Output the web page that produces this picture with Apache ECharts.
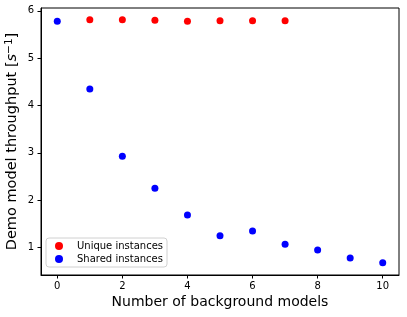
<!DOCTYPE html>
<html>
<head>
<meta charset="utf-8">
<script src="https://cdn.jsdelivr.net/npm/echarts@6/dist/echarts.min.js"></script>
<style>html,body{margin:0;padding:0;background:#fff}#c{width:407px;height:317px}</style>
</head>
<body>
<div id="c"></div>
<script>
const uniqueX = [1, 2, 3, 4, 5, 6, 7];
const uniqueY = [5.81, 5.81, 5.80, 5.78, 5.79, 5.79, 5.79];
const sharedX = [0, 1, 2, 3, 4, 5, 6, 7, 8, 9, 10];
const sharedY = [5.78, 4.35, 2.93, 2.25, 1.69, 1.25, 1.35, 1.07, 0.95, 0.78, 0.68];
const xTicks = [0, 2, 4, 6, 8, 10];
const yTicks = [1, 2, 3, 4, 5, 6];
const seriesNames = ['Unique instances', 'Shared instances'];

const font = 'DejaVu Sans';
const chart = echarts.init(document.getElementById('c'));
const axisCommon = {
  axisLine: { show: true, onZero: false, lineStyle: { color: '#000', width: 1 } },
  axisTick: { show: true, length: 3.5, lineStyle: { color: '#000' } },
  axisLabel: { color: '#000', fontFamily: font, fontSize: 10, margin: 6 },
  splitLine: { show: false }
};
chart.setOption({
  animation: false,
  grid: { left: 41, right: 8, top: 8, bottom: 42, show: true, borderColor: '#000', borderWidth: 1,
          containLabel: false, outerBoundsMode: 'none' },
  xAxis: Object.assign({}, axisCommon, {
    type: 'value', min: -0.5, max: 10.5,
    axisTick: Object.assign({}, axisCommon.axisTick, { customValues: xTicks }),
    axisLabel: Object.assign({}, axisCommon.axisLabel, { customValues: xTicks }),
    name: 'Number of background models', nameLocation: 'middle', nameGap: 20, nameMoveOverlap: false,
    nameTextStyle: { fontFamily: font, fontSize: 14, color: '#000' }
  }),
  yAxis: Object.assign({}, axisCommon, {
    type: 'value', min: 0.42, max: 6.06,
    axisTick: Object.assign({}, axisCommon.axisTick, { customValues: yTicks }),
    axisLabel: Object.assign({}, axisCommon.axisLabel, { customValues: yTicks, margin: 7 }),
    name: 'Demo model throughput [{i|s}{sup|−1}]', nameLocation: 'middle', nameGap: 20, nameMoveOverlap: false,
    nameTextStyle: {
      fontFamily: font, fontSize: 14.5, color: '#000',
      rich: {
        i: { fontFamily: font, fontSize: 14.5, fontStyle: 'italic', color: '#000' },
        sup: { fontFamily: font, fontSize: 10.5, color: '#000', verticalAlign: 'top', padding: [0, 0, 6, 0] }
      }
    }
  }),
  legend: {
    orient: 'vertical', left: 46, top: 238,
    padding: [3, 4, 3, 9],
    itemGap: 3,
    itemWidth: 8, itemHeight: 8,
    icon: 'circle',
    borderColor: '#d0d0d0', borderWidth: 1, borderRadius: 3,
    backgroundColor: 'rgba(255,255,255,0.8)',
    textStyle: { fontFamily: font, fontSize: 10, color: '#000', padding: [0, 0, 0, 9] },
    data: seriesNames
  },
  series: [
    { name: seriesNames[0], type: 'scatter', symbolSize: 7, itemStyle: { color: '#ff0000', opacity: 1 },
      data: uniqueX.map((x, i) => [x, uniqueY[i]]) },
    { name: seriesNames[1], type: 'scatter', symbolSize: 7, itemStyle: { color: '#0000ff', opacity: 1 },
      data: sharedX.map((x, i) => [x, sharedY[i]]) }
  ]
});
</script>
</body>
</html>
